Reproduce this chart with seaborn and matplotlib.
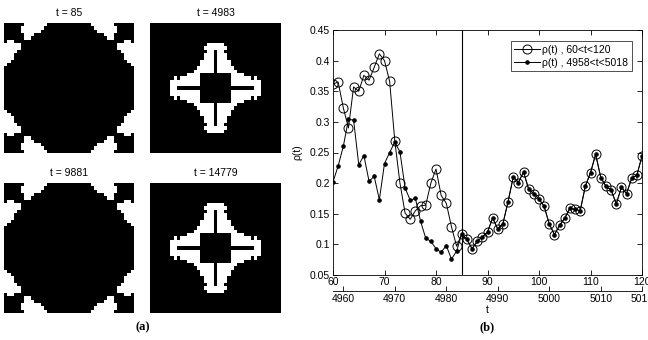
import numpy as np
import matplotlib
matplotlib.use('Agg')
import matplotlib.pyplot as plt
from matplotlib.colors import ListedColormap
from matplotlib.ticker import FuncFormatter
import seaborn as sns

# rho(t) for the window 60<t<120 (open circles)
t_a = list(range(60, 121))
rho_a = [0.362, 0.365, 0.323, 0.290, 0.357, 0.350, 0.376, 0.368, 0.389, 0.411,
         0.400, 0.366, 0.269, 0.200, 0.151, 0.141, 0.155, 0.163, 0.164, 0.200,
         0.223, 0.180, 0.167, 0.129, 0.097, 0.117, 0.108, 0.093, 0.105, 0.112,
         0.120, 0.143, 0.125, 0.134, 0.170, 0.210, 0.201, 0.218, 0.190, 0.183,
         0.174, 0.162, 0.133, 0.116, 0.131, 0.143, 0.159, 0.157, 0.155, 0.195,
         0.217, 0.247, 0.209, 0.195, 0.189, 0.166, 0.193, 0.183, 0.208, 0.213,
         0.244]

# rho(t) for the window 4958<t<5018 (dots)
t_b = list(range(4958, 5019))
rho_b = [0.202, 0.228, 0.260, 0.304, 0.303, 0.230, 0.245, 0.203, 0.211, 0.173,
         0.232, 0.250, 0.267, 0.251, 0.192, 0.172, 0.175, 0.138, 0.110, 0.105,
         0.093, 0.087, 0.098, 0.076, 0.089, 0.117, 0.108, 0.093, 0.105, 0.112,
         0.120, 0.143, 0.125, 0.134, 0.170, 0.210, 0.201, 0.218, 0.190, 0.183,
         0.174, 0.162, 0.133, 0.116, 0.131, 0.143, 0.159, 0.157, 0.155, 0.195,
         0.217, 0.247, 0.209, 0.195, 0.189, 0.166, 0.193, 0.183, 0.208, 0.213,
         0.244]
t_offset = 4898
t_mark = 85

y_ticks = [0.05, 0.1, 0.15, 0.2, 0.25, 0.3, 0.35, 0.4, 0.45]
x_ticks = [60, 70, 80, 90, 100, 110, 120]
x2_ticks = [4960, 4970, 4980, 4990, 5000, 5010, 5018]

# top-left quadrant of each snapshot (white = '#')
ring_quad = [
    "......#######.......",
    ".....#######........",
    ".....######.........",
    "......###...........",
    "......##............",
] + ["...................."] * 15

cross_quad = ["...................."] * 14 + [
    ".............##.....",
    "...........####.....",
    ".......#.######.....",
    "......#########.....",
    "......#########.....",
    "......##............",
]

snap_titles = ['t = 85', 't = 4983', 't = 9881', 't = 14779']
snap_quads = [ring_quad, cross_quad, ring_quad, cross_quad]


def build_snapshot(rows):
    q = np.array([[c == '#' for c in r] for r in rows], dtype=float)
    q = np.maximum(q, q.T)
    top = np.hstack([q, q[:, -2::-1]])
    return np.vstack([top, top[-2::-1]])


plt.rcParams['font.family'] = ['Liberation Sans', 'DejaVu Sans']
W, H = 648, 340


def box(x0, y0, x1, y1):
    return [x0 / W, 1 - y1 / H, (x1 - x0) / W, (y1 - y0) / H]


fig = plt.figure(figsize=(W / 100, H / 100), dpi=100)

# left: four snapshots
bw = ListedColormap(['black', 'white'])
snap_boxes = [(4, 23, 134, 153), (150, 23, 281, 153),
              (4, 183, 134, 313), (150, 183, 281, 313)]
for title, quad, b in zip(snap_titles, snap_quads, snap_boxes):
    a = fig.add_axes(box(*b))
    sns.heatmap(build_snapshot(quad), ax=a, cmap=bw, vmin=0, vmax=1,
                cbar=False, xticklabels=False, yticklabels=False)
    a.set_title(title, fontsize=7.5, pad=5)

# right: rho(t)
ax = fig.add_axes(box(333, 30, 642, 275))
sns.lineplot(x=t_a, y=rho_a, ax=ax, color='k', lw=0.7, marker='o',
             markersize=6.5, markerfacecolor='none', markeredgecolor='k',
             markeredgewidth=0.7, label='ρ(t) , 60<t<120')
sns.lineplot(x=np.array(t_b) - t_offset, y=rho_b, ax=ax, color='k', lw=0.7,
             marker='.', markersize=5, markeredgecolor='k',
             label='ρ(t) , 4958<t<5018')
ax.axvline(t_mark, color='k', lw=0.8)

ax.set_xlim(60, 120)
ax.set_ylim(0.05, 0.45)
ax.set_xticks(x_ticks)
ax.set_yticks(y_ticks)
ax.yaxis.set_major_formatter(FuncFormatter(lambda v, p: f'{round(v, 2):g}'))
ax.tick_params(direction='in', top=True, right=True, length=3.5, width=0.6,
               labelsize=7.5, pad=2)
ax.tick_params(axis='x', pad=1.5)
for s in ax.spines.values():
    s.set_linewidth(0.6)
ax.set_xlabel('')
ax.set_ylabel('ρ(t)', fontsize=7.5)
ax.yaxis.set_label_coords(-0.10, 0.5)

leg = ax.legend(loc='upper right', bbox_to_anchor=(0.968, 0.955),
                borderaxespad=0, fontsize=7.5, frameon=True, fancybox=False,
                edgecolor='k', borderpad=0.35, labelspacing=0.3,
                handlelength=2.5, handletextpad=0.2)
leg.get_frame().set_linewidth(0.6)

sec = ax.secondary_xaxis(-0.065, functions=(lambda x: x + t_offset,
                                            lambda x: x - t_offset))
sec.set_xticks(x2_ticks)
sec.tick_params(direction='in', length=3.5, width=0.6, labelsize=7.5, pad=2)
sec.spines['bottom'].set_linewidth(0.6)
sec.set_xlabel('t', fontsize=7.5, labelpad=1)

fig.text(143 / W, 1 - 327 / H, '(a)', ha='center', va='center', fontsize=9,
         fontweight='bold', family='Liberation Serif')
fig.text(487 / W, 1 - 327 / H, '(b)', ha='center', va='center', fontsize=9,
         fontweight='bold', family='Liberation Serif')

fig.savefig('out.png', dpi=100)
